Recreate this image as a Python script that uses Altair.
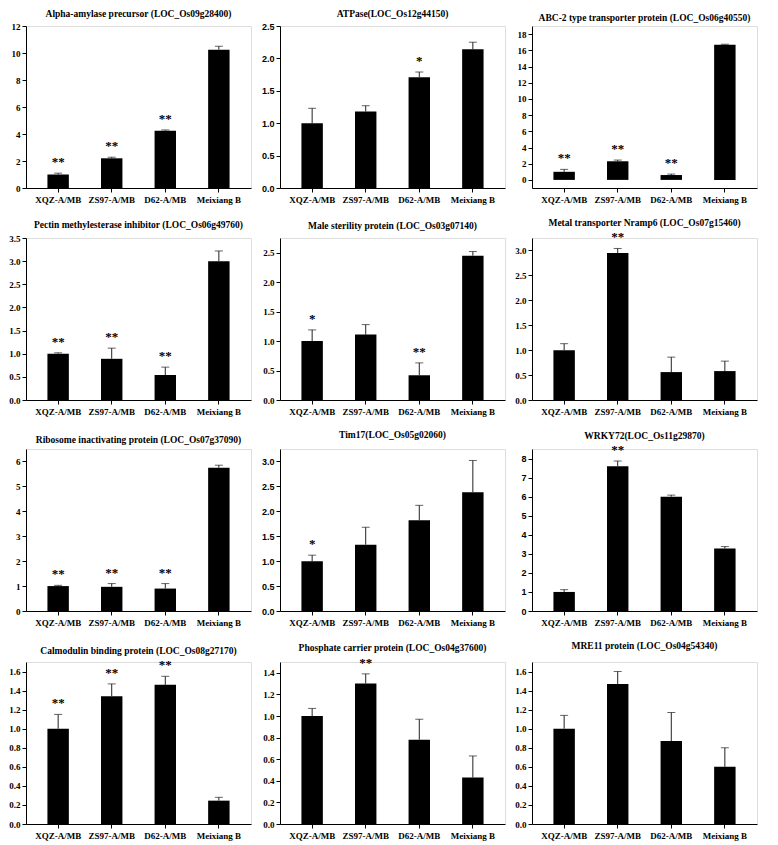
import altair as alt
import pandas as pd

groups = ["XQZ-A/MB", "ZS97-A/MB", "D62-A/MB", "Meixiang B"]

amylase_mean = [1.0, 2.2, 4.25, 10.25]
amylase_sd = [0.1, 0.08, 0.05, 0.25]
amylase_sig = ["**", "**", "**", ""]

atpase_mean = [1.0, 1.18, 1.71, 2.14]
atpase_sd = [0.23, 0.09, 0.08, 0.11]
atpase_sig = ["", "", "*", ""]

abc2_mean = [1.0, 2.3, 0.6, 16.7]
abc2_sd = [0.3, 0.15, 0.12, 0.05]
abc2_sig = ["**", "**", "**", ""]

pectin_mean = [1.0, 0.89, 0.54, 3.0]
pectin_sd = [0.02, 0.23, 0.17, 0.22]
pectin_sig = ["**", "**", "**", ""]

male_mean = [1.0, 1.11, 0.42, 2.45]
male_sd = [0.19, 0.17, 0.21, 0.07]
male_sig = ["*", "", "**", ""]

nramp_mean = [1.0, 2.95, 0.56, 0.58]
nramp_sd = [0.13, 0.09, 0.3, 0.2]
nramp_sig = ["", "**", "", ""]

ribo_mean = [1.0, 0.97, 0.9, 5.75]
ribo_sd = [0.03, 0.13, 0.2, 0.1]
ribo_sig = ["**", "**", "**", ""]

tim_mean = [1.0, 1.33, 1.82, 2.38]
tim_sd = [0.12, 0.35, 0.3, 0.64]
tim_sig = ["*", "", "", ""]

wrky_mean = [1.0, 7.6, 6.0, 3.28]
wrky_sd = [0.12, 0.27, 0.08, 0.1]
wrky_sig = ["", "**", "", ""]

calmod_mean = [1.0, 1.34, 1.46, 0.245]
calmod_sd = [0.15, 0.13, 0.09, 0.035]
calmod_sig = ["**", "**", "**", ""]

phos_mean = [1.0, 1.3, 0.78, 0.43]
phos_sd = [0.07, 0.09, 0.19, 0.2]
phos_sig = ["", "**", "", ""]

mre_mean = [1.0, 1.47, 0.87, 0.6]
mre_sd = [0.14, 0.13, 0.3, 0.2]
mre_sig = ["", "", "", ""]

titles = [
    "Alpha-amylase precursor (LOC_Os09g28400)",
    "ATPase(LOC_Os12g44150)",
    "ABC-2 type transporter protein (LOC_Os06g40550)",
    "Pectin methylesterase inhibitor (LOC_Os06g49760)",
    "Male sterility protein (LOC_Os03g07140)",
    "Metal transporter Nramp6 (LOC_Os07g15460)",
    "Ribosome inactivating protein (LOC_Os07g37090)",
    "Tim17(LOC_Os05g02060)",
    "WRKY72(LOC_Os11g29870)",
    "Calmodulin binding protein (LOC_Os08g27170)",
    "Phosphate carrier protein (LOC_Os04g37600)",
    "MRE11 protein (LOC_Os04g54340)",
]

y_domains = [[0, 12], [0, 2.5], [-1, 19], [0, 3.5], [0, 2.75], [0, 3.25],
             [0, 6.5], [0, 3.25], [0, 8.5], [0, 1.7], [0, 1.5], [0, 1.7]]
y_ticks = [
    [0, 2, 4, 6, 8, 10, 12],
    [0, 0.5, 1.0, 1.5, 2.0, 2.5],
    [0, 2, 4, 6, 8, 10, 12, 14, 16, 18],
    [0, 0.5, 1.0, 1.5, 2.0, 2.5, 3.0, 3.5],
    [0, 0.5, 1.0, 1.5, 2.0, 2.5],
    [0, 0.5, 1.0, 1.5, 2.0, 2.5, 3.0],
    [0, 1, 2, 3, 4, 5, 6],
    [0, 0.5, 1.0, 1.5, 2.0, 2.5, 3.0],
    [0, 1, 2, 3, 4, 5, 6, 7, 8],
    [0, 0.2, 0.4, 0.6, 0.8, 1.0, 1.2, 1.4, 1.6],
    [0, 0.2, 0.4, 0.6, 0.8, 1.0, 1.2, 1.4],
    [0, 0.2, 0.4, 0.6, 0.8, 1.0, 1.2, 1.4, 1.6],
]
y_formats = ["d", ".1f", "d", ".1f", ".1f", ".1f", "d", ".1f", "d", ".1f", ".1f", ".1f"]
y_fonts = ["Liberation Serif", "Liberation Sans", "Liberation Serif", "Liberation Serif",
           "Liberation Serif", "Liberation Serif", "Liberation Serif", "Liberation Sans",
           "Liberation Sans", "Liberation Serif", "Liberation Serif", "Liberation Serif"]

means = [amylase_mean, atpase_mean, abc2_mean, pectin_mean, male_mean, nramp_mean,
         ribo_mean, tim_mean, wrky_mean, calmod_mean, phos_mean, mre_mean]
sds = [amylase_sd, atpase_sd, abc2_sd, pectin_sd, male_sd, nramp_sd,
       ribo_sd, tim_sd, wrky_sd, calmod_sd, phos_sd, mre_sd]
sigs = [amylase_sig, atpase_sig, abc2_sig, pectin_sig, male_sig, nramp_sig,
        ribo_sig, tim_sig, wrky_sig, calmod_sig, phos_sig, mre_sig]

SERIF = "Liberation Serif"


def panel(i):
    mean, sd, sig = means[i], sds[i], sigs[i]
    df = pd.DataFrame({
        "group": groups,
        "mean": mean,
        "top": [m + s for m, s in zip(mean, sd)],
        "sig": sig,
    })
    xscale = alt.Scale(paddingInner=0.6, paddingOuter=0.4)
    x = alt.X("group:N", sort=groups, scale=xscale,
              axis=alt.Axis(title=None, labelAngle=0, labelFont=SERIF,
                            labelFontWeight="bold", labelFontSize=9,
                            labelColor="black", domainColor="black",
                            tickColor="black", tickSize=4, labelPadding=3))
    yscale = alt.Scale(domain=y_domains[i], nice=False, zero=False)
    yaxis = alt.Axis(title=None, values=y_ticks[i], format=y_formats[i], grid=False,
                     labelOverlap=False, labelFont=y_fonts[i], labelFontWeight="bold",
                     labelFontSize=9, labelColor="black", domainColor="black",
                     tickColor="black", tickSize=4, labelPadding=2)
    base = alt.Chart(df)
    bars = base.mark_bar(color="black").encode(
        x=x, y=alt.Y("mean:Q", scale=yscale, axis=yaxis))
    err = base.mark_rule(color="#222222", strokeWidth=1).encode(
        x=x, y=alt.Y("mean:Q", scale=yscale, axis=yaxis), y2="top:Q")
    cap = base.mark_tick(color="#222222", size=8, thickness=1).encode(
        x=x, y=alt.Y("top:Q", scale=yscale, axis=yaxis))
    txt = base.mark_text(baseline="bottom", dy=-4, font=SERIF, fontWeight="bold",
                         fontSize=13).encode(
        x=x, y=alt.Y("top:Q", scale=yscale, axis=yaxis), text="sig:N",
        color=alt.value("black"))
    return alt.layer(bars, err, cap, txt).properties(
        width=225, height=162,
        title=alt.TitleParams(titles[i], font=SERIF, fontSize=9.5, fontWeight="bold",
                              anchor="middle", color="black", offset=4),
    )


chart = alt.concat(*[panel(i) for i in range(12)], columns=3,
                   spacing={"row": 12, "column": 8}).properties(
    padding={"left": 0, "right": 0, "top": 0, "bottom": 0}
).configure_view(stroke=None).configure(background="white")

chart.save("out.html", embed_options={"renderer": "svg", "actions": False})
